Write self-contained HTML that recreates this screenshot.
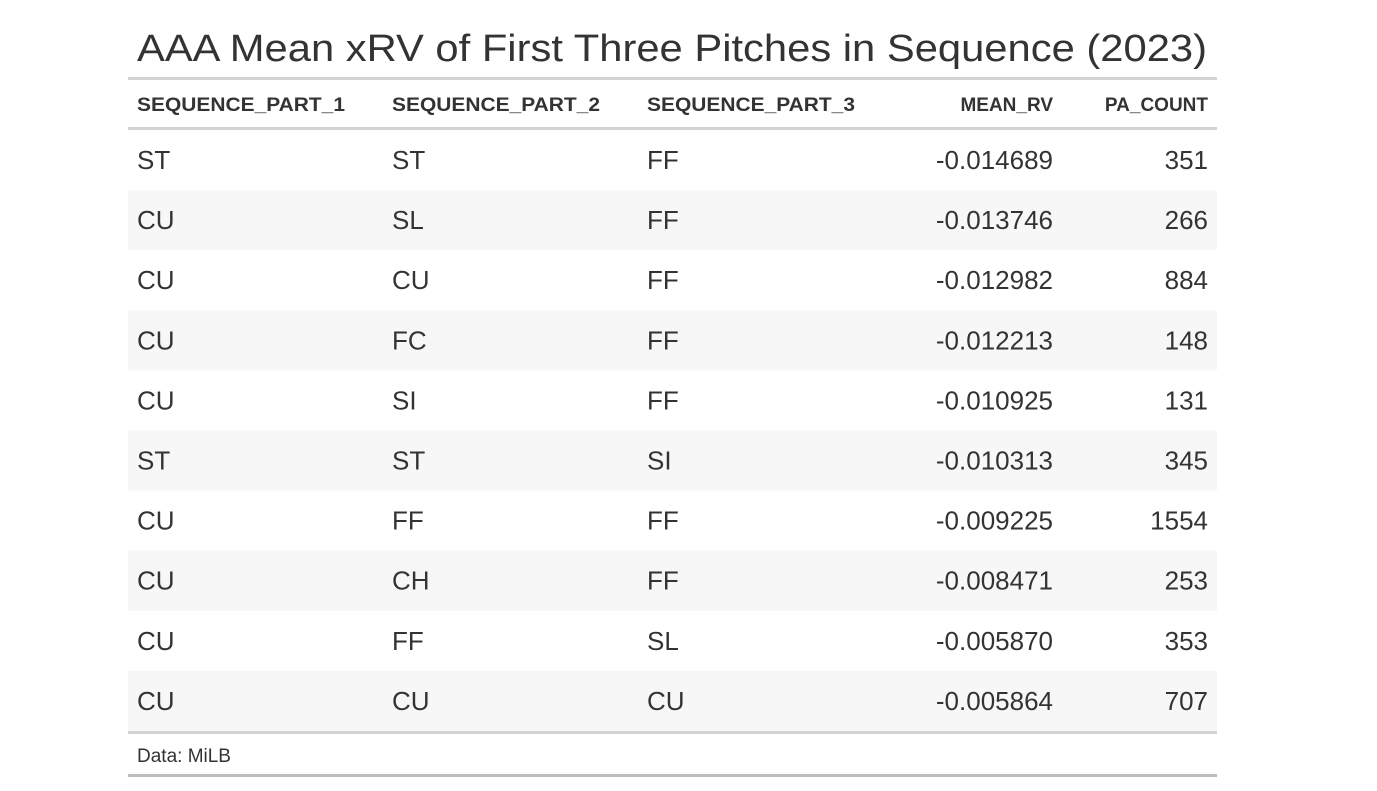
<!DOCTYPE html>
<html><head><meta charset="utf-8"><style>
body{margin:0;background:#fff;width:1377px;height:786px;overflow:hidden;font-family:"Liberation Sans",sans-serif;}
svg text{font-family:"Liberation Sans",sans-serif;fill:#333;}
</style></head><body>
<svg id="t" width="1377" height="786">
<text x="137" y="61" font-size="38" textLength="1070" lengthAdjust="spacingAndGlyphs">AAA Mean xRV of First Three Pitches in Sequence (2023)</text>
<rect x="128" y="77" width="1089" height="3" fill="#d3d3d3"/>
<rect x="128" y="127" width="1089" height="3" fill="#d3d3d3"/>
<text x="137" y="111" font-size="19" font-weight="bold" fill="#333" textLength="208" lengthAdjust="spacingAndGlyphs">SEQUENCE_PART_1</text>
<text x="392" y="111" font-size="19" font-weight="bold" textLength="208" lengthAdjust="spacingAndGlyphs">SEQUENCE_PART_2</text>
<text x="647" y="111" font-size="19" font-weight="bold" textLength="208" lengthAdjust="spacingAndGlyphs">SEQUENCE_PART_3</text>
<text x="1053" y="111" font-size="19" font-weight="bold" text-anchor="end">MEAN_RV</text>
<text x="1208" y="111" font-size="19" font-weight="bold" text-anchor="end">PA_COUNT</text>
<g id="rows"></g>
<rect x="128" y="731" width="1089" height="3" fill="#d3d3d3"/>
<text x="137" y="762" font-size="19">Data: MiLB</text>
<rect x="128" y="774" width="1089" height="3" fill="#bdbdbd"/>
</svg>
<script>
const part1=["ST","CU","CU","CU","CU","ST","CU","CU","CU","CU"];
const part2=["ST","SL","CU","FC","SI","ST","FF","CH","FF","CU"];
const part3=["FF","FF","FF","FF","FF","SI","FF","FF","SL","CU"];
const meanRv=[-0.014689,-0.013746,-0.012982,-0.012213,-0.010925,-0.010313,-0.009225,-0.008471,-0.005870,-0.005864];
const paCount=[351,266,884,148,131,345,1554,253,353,707];
const NS="http://www.w3.org/2000/svg";
const g=document.getElementById('rows');
function txt(x,y,s,anchor,name){const t=document.createElementNS(NS,'text');t.setAttribute('x',x);t.setAttribute('y',y);t.setAttribute('font-size','26');if(anchor)t.setAttribute('text-anchor',anchor);


t.textContent=s;g.appendChild(t);}
for(let i=0;i<part1.length;i++){
 const top=130+i*60.1;
 if(i%2===1){const r=document.createElementNS(NS,'rect');r.setAttribute('x',128);r.setAttribute('y',top);r.setAttribute('width',1089);r.setAttribute('height',60.1);r.setAttribute('fill','#f7f7f7');
 
 
 g.appendChild(r);}
 const y=top+39;
 txt(137,y,part1[i],null,'cell-part1');
 txt(392,y,part2[i],null,'cell-part2');
 txt(647,y,part3[i],null,'cell-part3');
 txt(1053,y,meanRv[i].toFixed(6),'end','cell-mean-rv');
 txt(1208,y,String(paCount[i]),'end','cell-pa-count');
}
</script>
</body></html>
